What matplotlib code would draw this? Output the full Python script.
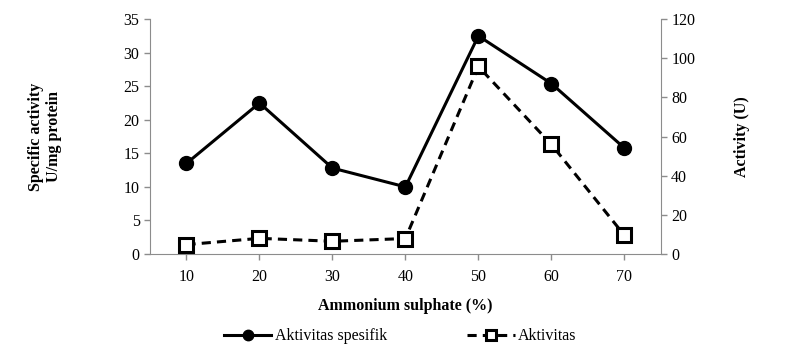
import matplotlib
matplotlib.use("Agg")
import matplotlib.pyplot as plt
import numpy as np

categories = ["10", "20", "30", "40", "50", "60", "70"]
specific_activity = [13.5, 22.5, 12.8, 10.0, 32.5, 25.4, 15.8]
activity = [4.8, 8.0, 6.5, 7.9, 95.8, 56.0, 9.6]

plt.rcParams['font.family'] = ['Liberation Serif', 'DejaVu Serif']

fig = plt.figure(figsize=(8, 3.54), dpi=100)
ax = fig.add_axes([0.1875, 0.2825, 0.826 - 0.1875, 0.946 - 0.2825])
ax2 = ax.twinx()

x = np.arange(len(categories))
gray = '#8c8c8c'

l1, = ax.plot(x, specific_activity, '-', color='black', lw=2.2, marker='o',
              markersize=10, label='Aktivitas spesifik', zorder=3)
l2, = ax2.plot(x, activity, '--', color='black', lw=2.2, marker='s',
               markersize=10, markerfacecolor='white', markeredgewidth=2.2,
               dashes=(3, 2), label='Aktivitas', zorder=3)

ax.set_xlim(-0.5, len(categories) - 0.5)
ax.set_ylim(0, 35)
ax.set_yticks(np.arange(0, 36, 5))
ax2.set_ylim(0, 120)
ax2.set_yticks(np.arange(0, 121, 20))
ax.set_xticks(x)
ax.set_xticklabels(categories)

for a in (ax, ax2):
    for s in a.spines.values():
        s.set_color(gray)
    a.spines['top'].set_visible(False)
    a.tick_params(colors=gray, labelcolor='black', labelsize=11.5, length=4, width=1, direction='out')
ax.tick_params(axis='x', pad=7)
ax.spines['right'].set_visible(False)
ax2.spines['left'].set_visible(False)
ax2.spines['bottom'].set_visible(False)

ax.set_xlabel('Ammonium sulphate (%)', fontsize=11.5, fontweight='bold', labelpad=9)
ax.set_ylabel('Specific activity\nU/mg protein', fontsize=11.5, fontweight='bold', labelpad=44)
ax2.set_ylabel('Activity (U)', fontsize=11.5, fontweight='bold', labelpad=28)

fig.legend(handles=[l1, l2], loc='center', bbox_to_anchor=(0.5, 0.05), ncol=2,
           frameon=False, fontsize=11.5, handlelength=3, columnspacing=5,
           handletextpad=0.2, markerscale=0.75)

fig.savefig('out.png', dpi=100)
